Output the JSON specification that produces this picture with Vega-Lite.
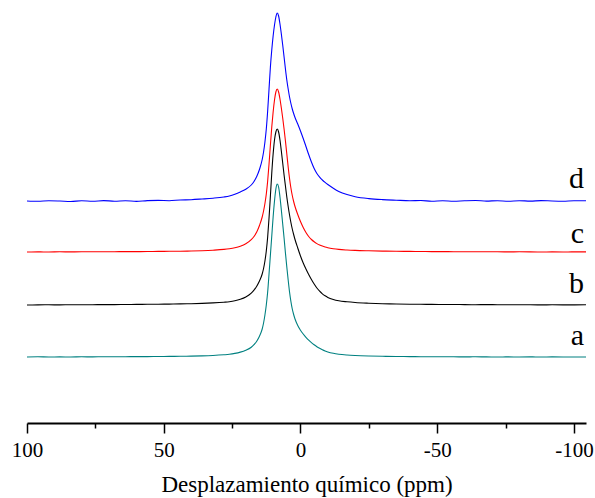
{
"$schema": "https://vega.github.io/schema/vega-lite/v6.json",
"width": 559, "height": 418, "autosize": "none",
"padding": {"left": 27, "top": 5, "right": 9, "bottom": 75},
"config": {"view": {"stroke": null}, "font": "Liberation Serif",
  "axis": {"labelFont": "Liberation Serif", "titleFont": "Liberation Serif"},
  "text": {"font": "Liberation Serif"}},
"datasets": {
"labels": [{"s":"a","x":-103.7,"v":78},{"s":"b","x":-103.7,"v":130},{"s":"c","x":-103.7,"v":180},{"s":"d","x":-103.7,"v":235}],
"spectra": [
{"s":"a","x":100,"v":66},{"s":"a","x":96,"v":66.2},{"s":"a","x":92,"v":66},{"s":"a","x":88,"v":66.1},{"s":"a","x":84,"v":66},{"s":"a","x":80,"v":66.2},{"s":"a","x":76,"v":66.1},{"s":"a","x":72,"v":66.3},{"s":"a","x":68,"v":66.2},{"s":"a","x":64,"v":66.3},{"s":"a","x":60,"v":66.4},{"s":"a","x":56,"v":66.4},{"s":"a","x":52,"v":66.5},{"s":"a","x":48,"v":66.6},{"s":"a","x":44,"v":66.7},{"s":"a","x":40,"v":66.9},{"s":"a","x":36,"v":67.1},{"s":"a","x":32,"v":67.5},{"s":"a","x":28,"v":68.2},{"s":"a","x":26,"v":68.7},{"s":"a","x":24,"v":69.6},{"s":"a","x":22,"v":70.9},{"s":"a","x":20,"v":72.8},{"s":"a","x":18,"v":75.8},{"s":"a","x":17,"v":78.3},{"s":"a","x":16,"v":81.8},{"s":"a","x":15,"v":86.8},{"s":"a","x":14,"v":94},{"s":"a","x":13.5,"v":100},{"s":"a","x":13,"v":108},{"s":"a","x":12.5,"v":118},{"s":"a","x":12,"v":131},{"s":"a","x":11.5,"v":149},{"s":"a","x":11,"v":168},{"s":"a","x":10.5,"v":187},{"s":"a","x":10,"v":206},{"s":"a","x":9.5,"v":222},{"s":"a","x":9,"v":234},{"s":"a","x":8.5,"v":239},{"s":"a","x":8,"v":236},{"s":"a","x":7.5,"v":226},{"s":"a","x":7,"v":213},{"s":"a","x":6.5,"v":199},{"s":"a","x":6,"v":185},{"s":"a","x":5.5,"v":170},{"s":"a","x":5,"v":156},{"s":"a","x":4.5,"v":143},{"s":"a","x":4,"v":131},{"s":"a","x":3.5,"v":121.5},{"s":"a","x":3,"v":114},{"s":"a","x":2.5,"v":108.5},{"s":"a","x":2,"v":104},{"s":"a","x":1,"v":97.5},{"s":"a","x":0,"v":92.8},{"s":"a","x":-1,"v":89},{"s":"a","x":-2,"v":85.7},{"s":"a","x":-3,"v":82.8},{"s":"a","x":-4,"v":80.3},{"s":"a","x":-5,"v":78.2},{"s":"a","x":-6,"v":76.3},{"s":"a","x":-7,"v":74.7},{"s":"a","x":-8,"v":73.3},{"s":"a","x":-9,"v":72.1},{"s":"a","x":-10,"v":71.1},{"s":"a","x":-12,"v":69.7},{"s":"a","x":-14,"v":68.8},{"s":"a","x":-17,"v":68},{"s":"a","x":-20,"v":67.5},{"s":"a","x":-25,"v":67},{"s":"a","x":-30,"v":66.7},{"s":"a","x":-35,"v":66.5},{"s":"a","x":-40,"v":66.4},{"s":"a","x":-44,"v":66.3},{"s":"a","x":-48,"v":66.3},{"s":"a","x":-52,"v":66.2},{"s":"a","x":-56,"v":66.2},{"s":"a","x":-60,"v":66.1},{"s":"a","x":-64,"v":66.2},{"s":"a","x":-68,"v":66.1},{"s":"a","x":-72,"v":66},{"s":"a","x":-76,"v":66.1},{"s":"a","x":-80,"v":66},{"s":"a","x":-84,"v":66.1},{"s":"a","x":-88,"v":66},{"s":"a","x":-92,"v":66.1},{"s":"a","x":-96,"v":66},{"s":"a","x":-100,"v":66},{"s":"a","x":-104.4,"v":66},
{"s":"b","x":100,"v":118},{"s":"b","x":96,"v":118.1},{"s":"b","x":92,"v":118.2},{"s":"b","x":88,"v":118.1},{"s":"b","x":84,"v":118.3},{"s":"b","x":80,"v":118.2},{"s":"b","x":76,"v":118.3},{"s":"b","x":72,"v":118.4},{"s":"b","x":68,"v":118.4},{"s":"b","x":64,"v":118.5},{"s":"b","x":60,"v":118.6},{"s":"b","x":56,"v":118.7},{"s":"b","x":52,"v":118.8},{"s":"b","x":48,"v":118.9},{"s":"b","x":44,"v":119.1},{"s":"b","x":40,"v":119.3},{"s":"b","x":36,"v":119.6},{"s":"b","x":32,"v":120.1},{"s":"b","x":28,"v":120.8},{"s":"b","x":26,"v":121.3},{"s":"b","x":24,"v":122.2},{"s":"b","x":22,"v":123.7},{"s":"b","x":20,"v":126},{"s":"b","x":18,"v":129.8},{"s":"b","x":17,"v":132.8},{"s":"b","x":16,"v":136.8},{"s":"b","x":15,"v":142},{"s":"b","x":14,"v":149},{"s":"b","x":13.5,"v":154.5},{"s":"b","x":13,"v":162},{"s":"b","x":12.5,"v":172},{"s":"b","x":12,"v":186},{"s":"b","x":11.5,"v":205},{"s":"b","x":11,"v":227},{"s":"b","x":10.5,"v":250},{"s":"b","x":10,"v":269},{"s":"b","x":9.5,"v":283},{"s":"b","x":9,"v":291},{"s":"b","x":8.5,"v":294},{"s":"b","x":8,"v":291},{"s":"b","x":7.5,"v":283},{"s":"b","x":7,"v":272},{"s":"b","x":6.5,"v":260},{"s":"b","x":6,"v":248},{"s":"b","x":5.5,"v":237},{"s":"b","x":5,"v":226},{"s":"b","x":4.5,"v":216.5},{"s":"b","x":4,"v":208},{"s":"b","x":3.5,"v":200.5},{"s":"b","x":3,"v":194},{"s":"b","x":2.5,"v":188.5},{"s":"b","x":2,"v":183.5},{"s":"b","x":1,"v":175},{"s":"b","x":0,"v":167},{"s":"b","x":-1,"v":160},{"s":"b","x":-2,"v":154},{"s":"b","x":-3,"v":148.5},{"s":"b","x":-4,"v":143.5},{"s":"b","x":-5,"v":139},{"s":"b","x":-6,"v":135},{"s":"b","x":-7,"v":131.8},{"s":"b","x":-8,"v":129.2},{"s":"b","x":-9,"v":127.2},{"s":"b","x":-10,"v":125.6},{"s":"b","x":-12,"v":123.5},{"s":"b","x":-14,"v":122.2},{"s":"b","x":-17,"v":121.2},{"s":"b","x":-20,"v":120.5},{"s":"b","x":-25,"v":119.8},{"s":"b","x":-30,"v":119.3},{"s":"b","x":-35,"v":119},{"s":"b","x":-40,"v":118.8},{"s":"b","x":-44,"v":118.7},{"s":"b","x":-48,"v":118.6},{"s":"b","x":-52,"v":118.5},{"s":"b","x":-56,"v":118.5},{"s":"b","x":-60,"v":118.4},{"s":"b","x":-64,"v":118.3},{"s":"b","x":-68,"v":118.4},{"s":"b","x":-72,"v":118.3},{"s":"b","x":-76,"v":118.2},{"s":"b","x":-80,"v":118.3},{"s":"b","x":-84,"v":118.2},{"s":"b","x":-88,"v":118.1},{"s":"b","x":-92,"v":118.2},{"s":"b","x":-96,"v":118.1},{"s":"b","x":-100,"v":118.1},{"s":"b","x":-104.4,"v":118.2},
{"s":"c","x":100,"v":171},{"s":"c","x":96,"v":171.1},{"s":"c","x":92,"v":171},{"s":"c","x":88,"v":171.2},{"s":"c","x":84,"v":171.1},{"s":"c","x":80,"v":171.2},{"s":"c","x":76,"v":171.3},{"s":"c","x":72,"v":171.2},{"s":"c","x":68,"v":171.3},{"s":"c","x":64,"v":171.4},{"s":"c","x":60,"v":171.4},{"s":"c","x":56,"v":171.5},{"s":"c","x":52,"v":171.6},{"s":"c","x":48,"v":171.7},{"s":"c","x":44,"v":171.8},{"s":"c","x":40,"v":172},{"s":"c","x":36,"v":172.3},{"s":"c","x":32,"v":172.8},{"s":"c","x":28,"v":173.6},{"s":"c","x":26,"v":174.3},{"s":"c","x":24,"v":175.3},{"s":"c","x":22,"v":176.8},{"s":"c","x":20,"v":179.2},{"s":"c","x":18,"v":183.3},{"s":"c","x":17,"v":186.5},{"s":"c","x":16,"v":191},{"s":"c","x":15,"v":197.5},{"s":"c","x":14,"v":206},{"s":"c","x":13.5,"v":212},{"s":"c","x":13,"v":219.5},{"s":"c","x":12.5,"v":229},{"s":"c","x":12,"v":242},{"s":"c","x":11.5,"v":259},{"s":"c","x":11,"v":278},{"s":"c","x":10.5,"v":296},{"s":"c","x":10,"v":311},{"s":"c","x":9.5,"v":323},{"s":"c","x":9,"v":331},{"s":"c","x":8.5,"v":334},{"s":"c","x":8,"v":331},{"s":"c","x":7.5,"v":324},{"s":"c","x":7,"v":315},{"s":"c","x":6.5,"v":305},{"s":"c","x":6,"v":294},{"s":"c","x":5.5,"v":282},{"s":"c","x":5,"v":269},{"s":"c","x":4.5,"v":256},{"s":"c","x":4,"v":244.5},{"s":"c","x":3.5,"v":235},{"s":"c","x":3,"v":227.5},{"s":"c","x":2.5,"v":221.5},{"s":"c","x":2,"v":216.5},{"s":"c","x":1,"v":208.5},{"s":"c","x":0,"v":201.5},{"s":"c","x":-1,"v":195.5},{"s":"c","x":-2,"v":190.5},{"s":"c","x":-3,"v":186.5},{"s":"c","x":-4,"v":183.5},{"s":"c","x":-5,"v":181.2},{"s":"c","x":-6,"v":179.4},{"s":"c","x":-7,"v":178},{"s":"c","x":-8,"v":176.9},{"s":"c","x":-9,"v":176},{"s":"c","x":-10,"v":175.3},{"s":"c","x":-12,"v":174.3},{"s":"c","x":-14,"v":173.6},{"s":"c","x":-17,"v":173},{"s":"c","x":-20,"v":172.6},{"s":"c","x":-25,"v":172.2},{"s":"c","x":-30,"v":171.9},{"s":"c","x":-35,"v":171.7},{"s":"c","x":-40,"v":171.6},{"s":"c","x":-44,"v":171.5},{"s":"c","x":-48,"v":171.4},{"s":"c","x":-52,"v":171.4},{"s":"c","x":-56,"v":171.3},{"s":"c","x":-60,"v":171.3},{"s":"c","x":-64,"v":171.2},{"s":"c","x":-68,"v":171.3},{"s":"c","x":-72,"v":171.2},{"s":"c","x":-76,"v":171.1},{"s":"c","x":-80,"v":171.2},{"s":"c","x":-84,"v":171.1},{"s":"c","x":-88,"v":171},{"s":"c","x":-92,"v":171.1},{"s":"c","x":-96,"v":171},{"s":"c","x":-100,"v":171.1},{"s":"c","x":-104.4,"v":171.1},
{"s":"d","x":100,"v":222},{"s":"d","x":96,"v":221.7},{"s":"d","x":92,"v":222.3},{"s":"d","x":88,"v":222},{"s":"d","x":84,"v":221.5},{"s":"d","x":80,"v":222.2},{"s":"d","x":76,"v":221.7},{"s":"d","x":72,"v":222.4},{"s":"d","x":68,"v":221.8},{"s":"d","x":64,"v":222.3},{"s":"d","x":60,"v":221.6},{"s":"d","x":56,"v":222.4},{"s":"d","x":52,"v":222.6},{"s":"d","x":48,"v":222.3},{"s":"d","x":44,"v":223},{"s":"d","x":40,"v":223.3},{"s":"d","x":36,"v":224},{"s":"d","x":32,"v":224.8},{"s":"d","x":28,"v":226},{"s":"d","x":26,"v":227},{"s":"d","x":24,"v":228.7},{"s":"d","x":22,"v":231},{"s":"d","x":20,"v":233.8},{"s":"d","x":18,"v":238},{"s":"d","x":17,"v":241.5},{"s":"d","x":16,"v":246.5},{"s":"d","x":15,"v":253.5},{"s":"d","x":14,"v":263.5},{"s":"d","x":13.5,"v":271},{"s":"d","x":13,"v":281},{"s":"d","x":12.5,"v":294},{"s":"d","x":12,"v":312},{"s":"d","x":11.5,"v":334},{"s":"d","x":11,"v":356},{"s":"d","x":10.5,"v":373},{"s":"d","x":10,"v":387},{"s":"d","x":9.5,"v":398},{"s":"d","x":9,"v":406},{"s":"d","x":8.5,"v":410},{"s":"d","x":8,"v":407},{"s":"d","x":7.5,"v":399},{"s":"d","x":7,"v":389},{"s":"d","x":6.5,"v":378},{"s":"d","x":6,"v":366},{"s":"d","x":5.5,"v":354},{"s":"d","x":5,"v":343},{"s":"d","x":4.5,"v":334},{"s":"d","x":4,"v":326},{"s":"d","x":3.5,"v":319.5},{"s":"d","x":3,"v":314},{"s":"d","x":2.5,"v":309.5},{"s":"d","x":2,"v":305.5},{"s":"d","x":1,"v":299},{"s":"d","x":0,"v":292},{"s":"d","x":-1,"v":284.5},{"s":"d","x":-2,"v":276.5},{"s":"d","x":-3,"v":268.5},{"s":"d","x":-4,"v":261},{"s":"d","x":-5,"v":254.5},{"s":"d","x":-6,"v":249.5},{"s":"d","x":-7,"v":245.8},{"s":"d","x":-8,"v":243},{"s":"d","x":-9,"v":240.6},{"s":"d","x":-10,"v":238.5},{"s":"d","x":-12,"v":234.8},{"s":"d","x":-14,"v":231.6},{"s":"d","x":-17,"v":228.4},{"s":"d","x":-20,"v":226.3},{"s":"d","x":-25,"v":224.4},{"s":"d","x":-30,"v":223.4},{"s":"d","x":-35,"v":222.8},{"s":"d","x":-40,"v":222.3},{"s":"d","x":-44,"v":222.5},{"s":"d","x":-48,"v":221.8},{"s":"d","x":-52,"v":222.3},{"s":"d","x":-56,"v":221.7},{"s":"d","x":-60,"v":222.2},{"s":"d","x":-64,"v":222.5},{"s":"d","x":-68,"v":221.9},{"s":"d","x":-72,"v":222.3},{"s":"d","x":-76,"v":221.7},{"s":"d","x":-80,"v":222.3},{"s":"d","x":-84,"v":221.9},{"s":"d","x":-88,"v":222.4},{"s":"d","x":-92,"v":222},{"s":"d","x":-96,"v":221.8},{"s":"d","x":-100,"v":222.3},{"s":"d","x":-104.4,"v":222.2}
]},
"layer": [
{"data": {"name": "spectra"},
 "mark": {"type": "line", "strokeWidth": 1.1, "interpolate": "monotone"},
 "encoding": {
  "x": {"field": "x", "type": "quantitative",
        "scale": {"domain": [-104.4, 100], "reverse": true, "nice": false, "zero": false},
        "axis": {"values": [100, 50, 0, -50, -100], "labelExpr": "'' + datum.value", "labelFlush": false,
                 "labelFont": "Liberation Serif", "labelFontSize": 21, "labelColor": "#000", "labelPadding": 6,
                 "tickColor": "#000", "tickSize": 10, "tickWidth": 1.5, "domainColor": "#000", "domainWidth": 2,
                 "grid": false, "title": "Desplazamiento químico (ppm)", "titleFont": "Liberation Serif",
                 "titleFontSize": 23, "titleFontWeight": "normal", "titleColor": "#000", "titlePadding": 13}},
  "y": {"field": "v", "type": "quantitative", "scale": {"domain": [0, 418], "nice": false, "zero": false}, "axis": null},
  "color": {"field": "s", "type": "nominal", "scale": {"domain": ["a", "b", "c", "d"], "range": ["#008080", "#000000", "#ff0000", "#0000ff"]}, "legend": null}
 }},
{"data": {"name": "labels"},
 "mark": {"type": "text", "align": "right", "baseline": "alphabetic", "font": "Liberation Serif", "fontSize": 30, "color": "#000"},
 "encoding": {
  "x": {"field": "x", "type": "quantitative",
        "axis": {"orient": "bottom", "values": [75, 25, -25, -75], "labels": false, "domain": false, "grid": false,
                 "tickColor": "#000", "tickSize": 5, "tickWidth": 1.5, "title": null}},
  "y": {"field": "v", "type": "quantitative"},
  "text": {"field": "s"}
 }}
],
"resolve": {"axis": {"x": "independent"}}
}
